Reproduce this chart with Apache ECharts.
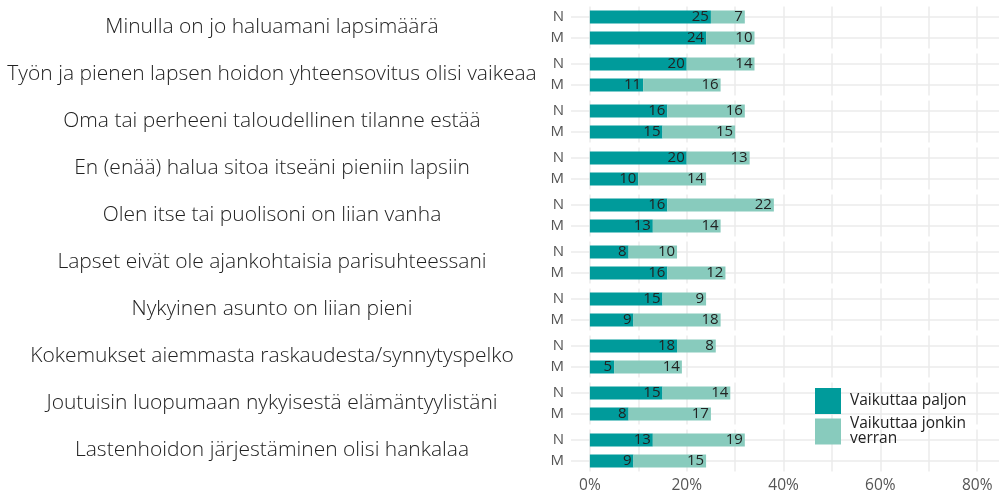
<!DOCTYPE html>
<html><head><meta charset="utf-8">
<script src="https://cdn.jsdelivr.net/npm/echarts@6/dist/echarts.min.js"></script>
<style>html,body{margin:0;padding:0;background:#fff}#c{width:1000px;height:494px}</style>
</head><body><div id="c"></div>
<script>
const categories = [
  'Minulla on jo haluamani lapsimäärä',
  'Työn ja pienen lapsen hoidon yhteensovitus olisi vaikeaa',
  'Oma tai perheeni taloudellinen tilanne estää',
  'En (enää) halua sitoa itseäni pieniin lapsiin',
  'Olen itse tai puolisoni on liian vanha',
  'Lapset eivät ole ajankohtaisia parisuhteessani',
  'Nykyinen asunto on liian pieni',
  'Kokemukset aiemmasta raskaudesta/synnytyspelko',
  'Joutuisin luopumaan nykyisestä elämäntyylistäni',
  'Lastenhoidon järjestäminen olisi hankalaa'
];
const groups = ['N', 'M'];
const paljonN = [25, 20, 16, 20, 16, 8, 15, 18, 15, 13];
const paljonM = [24, 11, 15, 10, 13, 16, 9, 5, 8, 9];
const jonkinN = [7, 14, 16, 13, 22, 10, 9, 8, 14, 19];
const jonkinM = [10, 16, 15, 14, 14, 12, 18, 14, 17, 15];
const seriesNames = ['Vaikuttaa paljon', 'Vaikuttaa jonkin verran'];
const gridTicks = [0, 10, 20, 30, 40, 50, 60, 70, 80];
const tickLabels = [0, 20, 40, 60, 80];

const FONT = "'Open Sans', sans-serif";
const COLORS = ['#009b9b', '#88cbbd'];
const TEXT = '#222222';
const GRIDC = '#ebebeb';

const chart = echarts.init(document.getElementById('c'), null, {renderer: 'canvas'});
const grids = [], xAxes = [], yAxes = [], series = [];
const n = categories.length;
for (let i = 0; i < n; i++) {
  grids.push({left: 571, width: 428, top: 6.5 + i * 47, height: 42, containLabel: false});
  const last = i === n - 1;
  xAxes.push({
    type: 'value', gridIndex: i, min: -3.9, max: 84.5,
    axisLine: {show: false},
    axisTick: {show: false, customValues: gridTicks},
    axisLabel: {show: last, customValues: tickLabels, formatter: '{value}%', color: '#555', fontSize: 15.5, fontFamily: FONT, margin: 6},
    splitLine: {show: true, lineStyle: {color: GRIDC, width: 1.5}}
  });
  yAxes.push({
    type: 'category', gridIndex: i, data: groups, inverse: true,
    axisLine: {show: false}, axisTick: {show: false},
    axisLabel: {color: '#555', fontSize: 15, fontFamily: FONT, margin: 7},
    splitLine: {show: true, alignWithLabel: true, lineStyle: {color: GRIDC, width: 1.5}},
    name: categories[i], nameLocation: 'middle', nameRotate: 0, nameGap: 299,
    nameMoveOverlap: false,
    nameTextStyle: {align: 'center', verticalAlign: 'middle', fontSize: 21, color: TEXT, fontFamily: FONT, fontWeight: 300}
  });
  const vals = [[paljonN[i], paljonM[i]], [jonkinN[i], jonkinM[i]]];
  for (let s = 0; s < 2; s++) {
    series.push({
      type: 'bar', name: seriesNames[s], xAxisIndex: i, yAxisIndex: i,
      stack: 'g' + i, data: vals[s], barWidth: 13,
      itemStyle: {color: COLORS[s]},
      label: {show: true, position: 'insideRight', distance: 2, formatter: '{c}', color: TEXT, fontSize: 15, fontFamily: FONT},
      emphasis: {disabled: true}
    });
  }
}

chart.setOption({
  animation: false,
  backgroundColor: '#ffffff',
  textStyle: {fontFamily: FONT},
  grid: grids, xAxis: xAxes, yAxis: yAxes, series: series,
  legend: {
    data: seriesNames, orient: 'vertical', left: 815, top: 388, padding: 0,
    itemWidth: 26, itemHeight: 26, itemGap: 2, icon: 'rect',
    formatter: name => name === seriesNames[1] ? 'Vaikuttaa jonkin\nverran' : name,
    textStyle: {color: TEXT, fontSize: 15.5, lineHeight: 15, fontFamily: FONT, padding: [0, 0, 0, 4]}
  }
});
</script>
</body></html>
